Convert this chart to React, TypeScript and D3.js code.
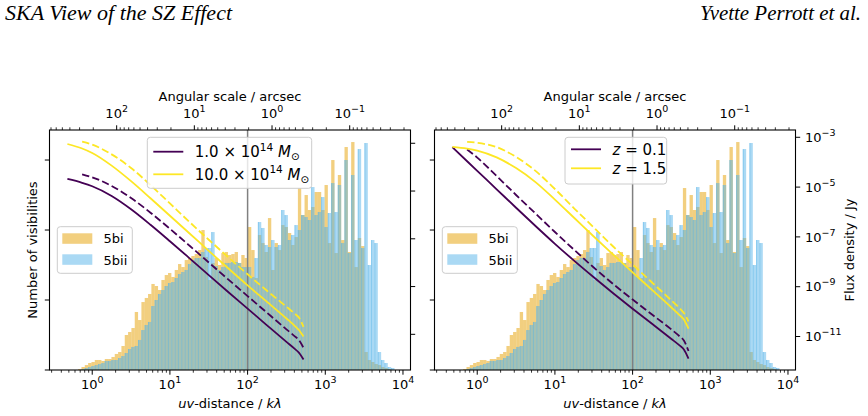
import React from "react";
import * as d3 from "d3";

const W = 868;
const H = 416;

// histogram bins: equal steps in log10(uv / kλ), shared by both configurations
const BIN_START = -0.31;
const BIN_STEP = 0.04286;

const visibilities5bi = [
  0, 0, 0, 14, 43, 71, 100, 114, 143, 143,
  129, 157, 157, 186, 229, 257, 343, 500, 543, 600,
  829, 714, 971, 1029, 1086, 1229, 1200, 1143, 1286, 1357,
  1386, 1329, 1429, 1514, 1471, 1571, 1600, 1629, 1657, 1714,
  2000, 1614, 1286, 1529, 1600, 1500, 1671, 1686, 1643, 1657,
  1686, 1529, 1643, 1600, 2043, 1714, 1314, 1929, 1814, 1686,
  2171, 1429, 1814, 1714, 2071, 2043, 1957, 1786, 1900, 2600,
  2214, 2500, 2286, 2329, 2543, 2543, 2286, 2643, 1814, 3000,
  1671, 2786, 1857, 3186, 1686, 3257, 1471, 1886, 1771, 257,
  143, 114, 86, 71, 43, 29, 14, 0, 0, 0,
];

const visibilities5bii = [
  0, 0, 0, 0, 14, 29, 43, 57, 71, 86,
  100, 129, 129, 143, 143, 171, 200, 243, 300, 329,
  343, 429, 571, 643, 686, 914, 1000, 1086, 1143, 1200,
  1243, 1257, 1314, 1371, 1400, 1429, 1514, 1571, 1600, 1600,
  1686, 1743, 1743, 1971, 1486, 1429, 1471, 1529, 1529, 1543,
  1543, 1529, 1471, 1471, 1471, 1329, 1600, 2114, 2029, 1786,
  1757, 1857, 1757, 1786, 2286, 2214, 1857, 1929, 2071, 2000,
  2214, 2186, 2143, 2614, 2214, 2257, 2471, 2043, 2243, 2671,
  2257, 2643, 1814, 3000, 1671, 2786, 1857, 3157, 1743, 3243,
  1500, 1857, 1814, 257, 143, 100, 43, 29, 0, 0,
];

// model flux density (Jy) sampled at these uv-distances (kλ)
const modelUv = [0.479, 0.741, 1, 1.778, 3.162, 5.623, 10, 17.78, 31.62, 56.23, 100, 177.8, 316.2, 398.1, 457.1, 524.8];

const fluxM1 = [3.21e-5, 2.22e-5, 1.59e-5, 6.23e-6, 1.73e-6, 3.88e-7, 7.92e-8, 1.56e-8, 3.03e-9, 5.94e-10, 1.19e-10, 2.38e-11, 4.81e-12, 2.57e-12, 1.71e-12, 8.81e-13];
const fluxM1Dashed = [null, 5.04e-5, 3.77e-5, 1.63e-5, 5.09e-6, 1.24e-6, 2.62e-7, 5.24e-8, 1.02e-8, 2.0e-9, 4.0e-10, 8.0e-11, 1.62e-11, 8.65e-12, 5.77e-12, 2.72e-12];
const fluxM10 = [9.33e-4, 6.05e-4, 3.93e-4, 1.16e-4, 2.59e-5, 4.99e-6, 9.24e-7, 1.71e-7, 3.14e-8, 5.82e-9, 1.12e-9, 2.29e-10, 4.62e-11, 2.38e-11, 1.51e-11, 8.09e-12];
const fluxM10Dashed = [null, 1.16e-3, 8.72e-4, 3.43e-4, 9.25e-5, 1.78e-5, 3.03e-6, 5.14e-7, 9.16e-8, 1.7e-8, 3.27e-9, 6.67e-10, 1.43e-10, 7.62e-11, 5.09e-11, 2.06e-11];

const fluxZ01 = [4.0e-4, 1.09e-4, 4.48e-5, 8.17e-6, 1.48e-6, 2.74e-7, 5.28e-8, 1.09e-8, 2.39e-9, 5.48e-10, 1.31e-10, 3.24e-11, 7.94e-12, 4.48e-12, 3.03e-12, 1.29e-12];
const fluxZ01Dashed = [null, 3.24e-4, 1.53e-4, 2.79e-5, 4.82e-6, 8.71e-7, 1.57e-7, 2.98e-8, 5.9e-9, 1.28e-9, 3.06e-10, 7.66e-11, 1.91e-11, 1.05e-11, 6.9e-12, 2.62e-12];
const fluxZ15 = [4.15e-4, 3.52e-4, 2.92e-4, 1.56e-4, 5.79e-5, 1.59e-5, 3.15e-6, 5.74e-7, 1.04e-7, 1.96e-8, 3.75e-9, 7.43e-10, 1.46e-10, 7.43e-11, 4.82e-11, 2.06e-11];
const fluxZ15Dashed = [null, 6.59e-4, 6.01e-4, 4.04e-4, 1.63e-4, 4.48e-5, 8.4e-6, 1.38e-6, 2.39e-7, 4.11e-8, 7.8e-9, 1.48e-9, 2.79e-10, 1.42e-10, 8.79e-11, 4.0e-11];

const countTicks = [0, 1000, 2000, 3000];
const fluxTicks = [1e-3, 1e-5, 1e-7, 1e-9, 1e-11];
const uvMajorTicks = [1, 10, 100, 1000, 10000];
const angleMajorTicks = [100, 10, 1, 0.1];

const UV_DOMAIN: [number, number] = [0.2818, 12500];
const COUNT_MAX = 3429;
const ARCSEC_PER_INV_KLAMBDA = 206.265; // 1/(1000 λ) rad in arcsec
const UV_MARK = 100;

const PURPLE = "#440154";
const YELLOW = "#fde725";
const ORANGE = "#E69F00";
const BLUE = "#56B4E9";
const FONT = "DejaVu Sans";

const TOP = 130;
const BOTTOM = 370;
const AX_W = 361;

function logTicks(lo: number, hi: number) {
  const out: { v: number; major: boolean }[] = [];
  const a = Math.min(lo, hi);
  const b = Math.max(lo, hi);
  for (let e = Math.floor(Math.log10(a)) - 1; e <= Math.ceil(Math.log10(b)); e++) {
    for (let m = 1; m < 10; m++) {
      const v = m * Math.pow(10, e);
      if (v >= a && v <= b) out.push({ v, major: m === 1 });
    }
  }
  return out;
}

const expText = (v: number) => {
  const e = Math.round(Math.log10(v));
  return e < 0 ? `\u2212${-e}` : `${e}`;
};

type Curve = { values: (number | null)[]; color: string; dashed: boolean };
type LegendRow = { color: string; label: React.ReactNode };

const massLabel = (m: string) => (
  <>
    {m} × 10<tspan dy={-6.5} fontSize={10.5}>14</tspan>
    <tspan dy={6.5}> </tspan>
    <tspan fontStyle="italic">M</tspan>
    <tspan dy={3} fontSize={10.5}>⊙</tspan>
  </>
);

const zLabel = (z: string) => (
  <>
    <tspan fontStyle="italic">z</tspan> = {z}
  </>
);

function Panel(props: {
  id: string;
  left: number;
  fluxDomain: [number, number];
  fluxLabels: boolean;
  curves: Curve[];
  legend: LegendRow[];
  legendBox: { x: number; y: number; w: number; h: number; rows: number[] };
}) {
  const { id, left, fluxDomain, fluxLabels, curves, legend, legendBox } = props;
  const right = left + AX_W;
  const x = d3.scaleLog().domain(UV_DOMAIN).range([left, right]);
  const yCount = d3.scaleLinear().domain([0, COUNT_MAX]).range([BOTTOM, TOP]);
  const yFlux = d3.scaleLog().domain(fluxDomain).range([BOTTOM, TOP]);

  const line = d3
    .line<[number, number | null]>()
    .defined((d) => d[1] != null)
    .x((d) => x(d[0]))
    .y((d) => yFlux(d[1] as number))
    .curve(d3.curveMonotoneX);

  const bars = (counts: number[], color: string, edges: boolean) =>
    counts.map((c, j) => {
      if (!c) return null;
      const xa = x(Math.pow(10, BIN_START + j * BIN_STEP));
      const xb = x(Math.pow(10, BIN_START + (j + 1) * BIN_STEP));
      return (
        <g key={j}>
          <rect x={xa} y={yCount(c)} width={xb - xa} height={yCount(0) - yCount(c)} fill={color} fillOpacity={0.5} />
          {edges && (
            <line x1={xa + 0.4} x2={xa + 0.4} y1={yCount(0)} y2={yCount(c)} stroke={color} strokeWidth={0.8} strokeOpacity={0.55} />
          )}
        </g>
      );
    });

  const uvTicks = logTicks(UV_DOMAIN[0], UV_DOMAIN[1]);
  const angTicks = logTicks(ARCSEC_PER_INV_KLAMBDA / UV_DOMAIN[1], ARCSEC_PER_INV_KLAMBDA / UV_DOMAIN[0]);
  const angToX = (a: number) => x(ARCSEC_PER_INV_KLAMBDA / a);
  const cx = (left + right) / 2;

  return (
    <g fontFamily={FONT}>
      <defs>
        <clipPath id={`clip-${id}`}>
          <rect x={left} y={TOP} width={AX_W} height={BOTTOM - TOP} />
        </clipPath>
      </defs>

      <g clipPath={`url(#clip-${id})`}>
        {bars(visibilities5bi, ORANGE, false)}
        {bars(visibilities5bii, BLUE, true)}
        <line x1={x(UV_MARK)} x2={x(UV_MARK)} y1={TOP} y2={BOTTOM} stroke="#808080" strokeWidth={1.5} />
        {curves.map((c, i) => (
          <path
            key={i}
            d={line(modelUv.map((u, k) => [u, c.values[k]] as [number, number | null])) || ""}
            fill="none"
            stroke={c.color}
            strokeWidth={1.8}
            strokeDasharray={c.dashed ? "7.4 3.2" : undefined}
          />
        ))}
      </g>

      {/* curve legend */}
      <g>
        <rect x={legendBox.x} y={legendBox.y} width={legendBox.w} height={legendBox.h} rx={3} fill="#fff" fillOpacity={0.8} stroke="#cccccc" strokeWidth={1} />
        {legend.map((r, i) => (
          <g key={i}>
            <line x1={legendBox.x + 6} x2={legendBox.x + 36} y1={legendBox.rows[i]} y2={legendBox.rows[i]} stroke={r.color} strokeWidth={1.8} />
            <text x={legendBox.x + 47.5} y={legendBox.rows[i] + 5.5} fontSize={15}>
              {r.label}
            </text>
          </g>
        ))}
      </g>

      {/* histogram legend */}
      <g>
        <rect x={left + 7.8} y={226.7} width={75} height={46.6} rx={3} fill="#fff" fillOpacity={0.8} stroke="#cccccc" strokeWidth={1} />
        <rect x={left + 12.8} y={233.3} width={30} height={10.5} fill={ORANGE} fillOpacity={0.5} />
        <rect x={left + 12.8} y={254.3} width={30} height={10.5} fill={BLUE} fillOpacity={0.5} />
        <text x={left + 54} y={243} fontSize={13}>5bi</text>
        <text x={left + 54} y={264.5} fontSize={13}>5bii</text>
      </g>

      {/* frame */}
      <rect x={left} y={TOP} width={AX_W} height={BOTTOM - TOP} fill="none" stroke="#000" strokeWidth={1.1} />

      {/* bottom uv axis */}
      {uvTicks.map((t, i) => (
        <line key={i} x1={x(t.v)} x2={x(t.v)} y1={BOTTOM} y2={BOTTOM + (t.major ? 4.7 : 2.7)} stroke="#000" strokeWidth={t.major ? 1 : 0.8} />
      ))}
      {uvMajorTicks.map((v) => (
        <text key={v} x={x(v)} y={388.5} fontSize={13} textAnchor="middle">
          10<tspan dy={-6} fontSize={9.5}>{expText(v)}</tspan>
        </text>
      ))}
      <text x={cx} y={408} fontSize={13} textAnchor="middle">
        <tspan fontStyle="italic">uv</tspan>-distance / <tspan fontStyle="italic">kλ</tspan>
      </text>

      {/* top angular axis */}
      {angTicks.map((t, i) => (
        <line key={i} x1={angToX(t.v)} x2={angToX(t.v)} y1={TOP} y2={TOP - (t.major ? 4.7 : 2.7)} stroke="#000" strokeWidth={t.major ? 1 : 0.8} />
      ))}
      {angleMajorTicks.map((v) => (
        <text key={v} x={angToX(v)} y={118} fontSize={13} textAnchor="middle">
          10<tspan dy={-6} fontSize={9.5}>{expText(v)}</tspan>
        </text>
      ))}
      <text x={cx} y={101} fontSize={13} textAnchor="middle">
        Angular scale / arcsec
      </text>

      {/* count axis, unlabelled */}
      {countTicks.map((v) => (
        <line key={v} x1={left - 4.7} x2={left} y1={yCount(v)} y2={yCount(v)} stroke="#000" strokeWidth={1} />
      ))}

      {/* flux axis */}
      {fluxTicks.map((v) => (
        <g key={v}>
          <line x1={right} x2={right + 4.7} y1={yFlux(v)} y2={yFlux(v)} stroke="#000" strokeWidth={1} />
          {fluxLabels && (
            <text x={right + 9.5} y={yFlux(v) + 4.7} fontSize={13}>
              10<tspan dy={-6} fontSize={9.5}>{expText(v)}</tspan>
            </text>
          )}
        </g>
      ))}
    </g>
  );
}

export default function App() {
  return (
    <svg width={W} height={H} style={{ position: "absolute", left: 0, top: 0, background: "#fff" }}>
      <text x={5} y={20} fontFamily="Liberation Serif" fontStyle="italic" fontSize={21} textLength={227} lengthAdjust="spacingAndGlyphs">
        SKA View of the SZ Effect
      </text>
      <text x={700} y={20} fontFamily="Liberation Serif" fontStyle="italic" fontSize={21} textLength={161} lengthAdjust="spacingAndGlyphs">
        Yvette Perrott et al.
      </text>

      <Panel
        id="mass"
        left={49.5}
        fluxDomain={[Math.pow(10, -12.494), Math.pow(10, -2.444)]}
        fluxLabels={false}
        curves={[
          { values: fluxM1, color: PURPLE, dashed: false },
          { values: fluxM1Dashed, color: PURPLE, dashed: true },
          { values: fluxM10, color: YELLOW, dashed: false },
          { values: fluxM10Dashed, color: YELLOW, dashed: true },
        ]}
        legend={[
          { color: PURPLE, label: massLabel("1.0") },
          { color: YELLOW, label: massLabel("10.0") },
        ]}
        legendBox={{ x: 147.3, y: 137.3, w: 164.4, h: 51, rows: [151.7, 174.3] }}
      />
      <Panel
        id="z"
        left={434.5}
        fluxDomain={[Math.pow(10, -12.345), Math.pow(10, -2.707)]}
        fluxLabels={true}
        curves={[
          { values: fluxZ01, color: PURPLE, dashed: false },
          { values: fluxZ01Dashed, color: PURPLE, dashed: true },
          { values: fluxZ15, color: YELLOW, dashed: false },
          { values: fluxZ15Dashed, color: YELLOW, dashed: true },
        ]}
        legend={[
          { color: PURPLE, label: zLabel("0.1") },
          { color: YELLOW, label: zLabel("1.5") },
        ]}
        legendBox={{ x: 565, y: 137.3, w: 101.7, h: 46.7, rows: [149.3, 168.3] }}
      />

      <text transform="translate(37,250) rotate(-90)" fontFamily={FONT} fontSize={13} textAnchor="middle">
        Number of visibilities
      </text>
      <text transform="translate(854,250) rotate(-90)" fontFamily={FONT} fontSize={13} textAnchor="middle">
        Flux density / Jy
      </text>
    </svg>
  );
}
